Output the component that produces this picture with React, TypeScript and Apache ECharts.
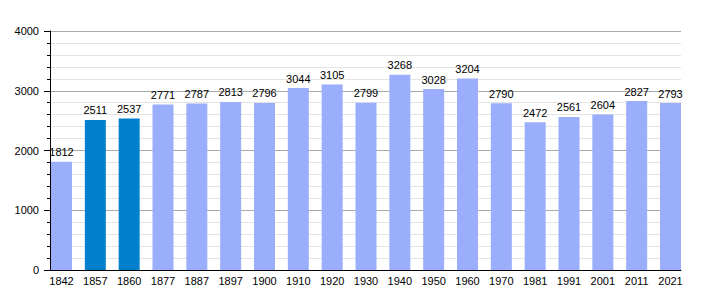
import React, { useEffect, useRef } from "react";
import * as echarts from "echarts";

const years = ["1842","1857","1860","1877","1887","1897","1900","1910","1920","1930","1940","1950","1960","1970","1981","1991","2001","2011","2021"];
const population = [1812,2511,2537,2771,2787,2813,2796,3044,3105,2799,3268,3028,3204,2790,2472,2561,2604,2827,2793];
const highlighted = ["1857","1860"];
const yTicks = { min: 0, max: 4000, interval: 1000 };

const LIGHT = "#9aaefc";
const DARK = "#0080cc";
const FONT = "Liberation Sans";

export default function App() {
  const ref = useRef<HTMLDivElement>(null);
  useEffect(() => {
    if (!ref.current) return;
    const chart = echarts.init(ref.current, undefined, { renderer: "svg" });
    const plotLeft = 50, plotTop = 31, plotH = 239, plotW = 631;
    const barW = 21;
    const pitch = (plotW - 1 - barW) / (years.length - 1);
    const margin = (pitch - barW) / 2;
    const barsLeft = plotLeft + 1 - margin;
    const barsW = pitch * years.length;
    chart.setOption({
      animation: false,
      grid: [
        { left: plotLeft, top: plotTop, width: plotW, height: plotH, containLabel: false },
        { left: barsLeft, top: plotTop, width: barsW, height: plotH, containLabel: false },
      ],
      xAxis: [
        {
          gridIndex: 0, type: "category", data: years,
          axisLine: { lineStyle: { color: "#000", width: 1 } },
          axisTick: { show: false }, axisLabel: { show: false }, splitLine: { show: false },
        },
        {
          gridIndex: 1, type: "category", data: years,
          axisLine: { show: false }, axisTick: { show: false },
          axisLabel: { color: "#000", fontSize: 11, fontFamily: FONT, margin: 5, interval: 0 },
        },
      ],
      yAxis: [
        {
          gridIndex: 0, type: "value", min: yTicks.min, max: yTicks.max, interval: yTicks.interval,
          axisLine: { show: true, lineStyle: { color: "#000", width: 1 } },
          axisTick: { show: true, length: 6, lineStyle: { color: "#000" } },
          minorTick: { show: true, splitNumber: 5, length: 3, lineStyle: { color: "#000" } },
          axisLabel: { color: "#000", fontSize: 11, fontFamily: FONT, margin: 11, formatter: (v: number) => String(v) },
          splitLine: { show: true, lineStyle: { color: "#aaaaaa", width: 1 } },
          minorSplitLine: { show: true, lineStyle: { color: "#e4e4e4", width: 1 } },
        },
        {
          gridIndex: 1, type: "value", min: yTicks.min, max: yTicks.max, interval: yTicks.interval,
          show: false, splitLine: { show: false },
        },
      ],
      series: [
        {
          type: "bar", xAxisIndex: 1, yAxisIndex: 1, barWidth: barW,
          data: population.map((v, i) => ({
            value: v,
            itemStyle: { color: highlighted.includes(years[i]) ? DARK : LIGHT },
          })),
          label: { show: true, position: "top", distance: 4, color: "#000", fontSize: 11, fontFamily: FONT },
        },
      ],
    });
    return () => chart.dispose();
  }, []);
  return <div ref={ref} style={{ width: 710, height: 300, position: "absolute", left: 0, top: 0 }} />;
}
